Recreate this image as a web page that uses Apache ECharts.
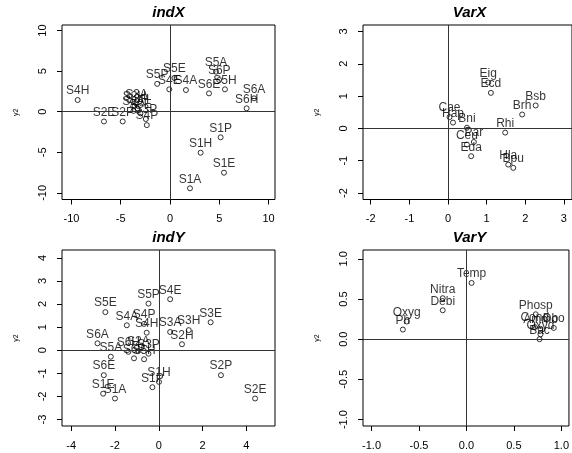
<!DOCTYPE html>
<html>
<head>
<meta charset="utf-8">
<script src="https://cdn.jsdelivr.net/npm/echarts@6/dist/echarts.min.js"></script>
<style>
  html, body { margin: 0; padding: 0; background: #fff; }
  #chart { width: 572px; height: 453px; }
</style>
</head>
<body>
<div id="chart"></div>
<script>
// indX: individuals on the X table
const indXNames = ['S1A', 'S1E', 'S1H', 'S1P', 'S2A', 'S2E', 'S2H', 'S2P', 'S3A', 'S3E', 'S3H', 'S3P',
  'S4A', 'S4E', 'S4H', 'S4P', 'S5A', 'S5E', 'S5H', 'S5P', 'S6A', 'S6E', 'S6H', 'S6P']
const indXx = [2.03, 5.48, 3.11, 5.14, -3.7, -6.7, -3.6, -4.8, -3.4, -3.0, -3.3, -2.45,
  1.62, -0.07, -9.37, -2.35, 4.67, 0.45, 5.58, -1.3, 8.53, 3.96, 7.78, 5.0]
const indXy = [-9.43, -7.51, -5.05, -3.15, 0.1, -1.2, 0.7, -1.2, 1.0, -0.2, 0.4, -0.9,
  2.67, 2.76, 1.44, -1.65, 4.93, 4.15, 2.76, 3.43, 1.65, 2.26, 0.42, 3.9]

// VarX: variables of the X table
const varXNames = ['Cae', 'Hap', 'Bni', 'Par', 'Ceu', 'Eda', 'Eig', 'Ecd', 'Bsb', 'Brh', 'Rhi', 'Hla', 'Bpu']
const varXx = [0.04, 0.13, 0.49, 0.67, 0.49, 0.60, 1.04, 1.11, 2.27, 1.92, 1.48, 1.56, 1.69]
const varXy = [0.35, 0.18, 0.02, -0.42, -0.5, -0.86, 1.42, 1.10, 0.71, 0.43, -0.13, -1.12, -1.22]

// indY: individuals on the Y table
const indYNames = ['S1A', 'S1E', 'S1H', 'S1P', 'S2A', 'S2E', 'S2H', 'S2P', 'S3A', 'S3E', 'S3H', 'S3P',
  'S4A', 'S4E', 'S4H', 'S4P', 'S5A', 'S5E', 'S5H', 'S5P', 'S6A', 'S6E', 'S6H', 'S6P']
const indYx = [-2.0, -2.54, 0.01, -0.29, -0.93, 4.40, 1.06, 2.84, 0.52, 2.37, 1.37, -0.47,
  -1.46, 0.52, -0.55, -0.67, -2.19, -2.44, -0.67, -0.47, -2.80, -2.51, -1.39, -1.13]
const indYy = [-2.09, -1.88, -1.37, -1.6, -0.03, -2.09, 0.26, -1.08, 0.79, 1.21, 0.87, -0.15,
  1.08, 2.21, 0.76, 1.14, -0.28, 1.65, -0.39, 2.02, 0.30, -1.08, -0.07, -0.35]

// VarY: variables of the Y table
const varYNames = ['Temp', 'Nitra', 'Debi', 'Oxyg', 'Ph', 'Phosp', 'Cond', 'Ammo', 'Dbo', 'Oxyd', 'Bac']
const varYx = [0.054, -0.25, -0.25, -0.63, -0.67, 0.73, 0.72, 0.78, 0.92, 0.78, 0.77]
const varYy = [0.70, 0.51, 0.36, 0.22, 0.12, 0.31, 0.15, 0.13, 0.14, 0.06, 0.0]

// tick labels
const ticksX1 = [-10, -5, 0, 5, 10]
const ticksY1 = [-10, -5, 0, 5, 10]
const ticksX2 = [-2, -1, 0, 1, 2, 3]
const ticksY2 = [-2, -1, 0, 1, 2, 3]
const ticksX3 = [-4, -2, 0, 2, 4]
const ticksY3 = [-3, -2, -1, 0, 1, 2, 3, 4]
const ticksX4 = [-1.0, -0.5, 0.0, 0.5, 1.0]
const ticksY4 = [-1.0, -0.5, 0.0, 0.5, 1.0]

const font = 'Liberation Sans, Arial, sans-serif'

const panels = [
  { title: 'indX', names: indXNames, xs: indXx, ys: indXy, tx: ticksX1, ty: ticksY1, dec: 0,
    box: { left: 62, top: 25, width: 213, height: 174.5 }, xr: [-10.96, 10.66], yr: [-10.81, 10.68] },
  { title: 'VarX', names: varXNames, xs: varXx, ys: varXy, tx: ticksX2, ty: ticksY2, dec: 0,
    box: { left: 363, top: 25, width: 213, height: 174.5 }, xr: [-2.2, 3.21], yr: [-2.2, 3.2] },
  { title: 'indY', names: indYNames, xs: indYx, ys: indYy, tx: ticksX3, ty: ticksY3, dec: 0,
    box: { left: 62, top: 250, width: 213, height: 176 }, xr: [-4.42, 5.31], yr: [-3.28, 4.34] },
  { title: 'VarY', names: varYNames, xs: varYx, ys: varYy, tx: ticksX4, ty: ticksY4, dec: 1,
    box: { left: 363, top: 250, width: 213, height: 176 }, xr: [-1.09, 1.08], yr: [-1.08, 1.11] }
]

const chart = echarts.init(document.getElementById('chart'), null, { renderer: 'canvas' })

const grid = [], xAxis = [], yAxis = [], series = [], title = []

panels.forEach((p, i) => {
  grid.push({
    left: p.box.left, top: p.box.top, width: p.box.width, height: p.box.height,
    show: true, borderColor: '#000', borderWidth: 1, backgroundColor: 'transparent'
  })
  title.push({
    text: p.title,
    left: p.box.left + p.box.width / 2,
    top: p.box.top - 20,
    padding: 0,
    textAlign: 'center',
    textStyle: { fontFamily: font, fontSize: 15, fontWeight: 'bold', fontStyle: 'italic', color: '#000' }
  })
  const fmt = v => (p.dec ? v.toFixed(p.dec) : String(v))
  xAxis.push({
    gridIndex: i, type: 'value', min: p.xr[0], max: p.xr[1],
    axisLine: { show: false, onZero: false },
    splitLine: { show: false },
    axisTick: { show: true, length: 5, customValues: p.tx, lineStyle: { color: '#000' } },
    axisLabel: { customValues: p.tx, formatter: fmt, margin: 14, color: '#000', fontSize: 11, fontFamily: font }
  })
  yAxis.push({
    gridIndex: i, type: 'value', min: p.yr[0], max: p.yr[1],
    name: 'y2', nameLocation: 'middle', nameRotate: 90, nameGap: 42,
    nameTextStyle: { fontSize: 7, color: '#000', fontFamily: font },
    axisLine: { show: false, onZero: false },
    splitLine: { show: false },
    axisTick: { show: true, length: 5, customValues: p.ty, lineStyle: { color: '#000' } },
    axisLabel: { customValues: p.ty, formatter: fmt, rotate: 90, margin: 14, color: '#000', fontSize: 11, fontFamily: font }
  })
  series.push({
    type: 'scatter', xAxisIndex: i, yAxisIndex: i,
    symbol: 'circle', symbolSize: 5,
    itemStyle: { color: 'transparent', borderColor: '#000', borderWidth: 1 },
    label: { show: true, position: 'top', distance: 0, formatter: '{b}', color: '#000', fontSize: 12, fontFamily: font },
    data: p.names.map((n, k) => ({ name: n, value: [p.xs[k], p.ys[k]] })),
    markLine: {
      silent: true, symbol: 'none', animation: false,
      label: { show: false },
      lineStyle: { color: '#333', width: 1, type: 'solid' },
      data: [{ xAxis: 0 }, { yAxis: 0 }]
    }
  })
})

chart.setOption({ animation: false, title, grid, xAxis, yAxis, series })
</script>
</body>
</html>
